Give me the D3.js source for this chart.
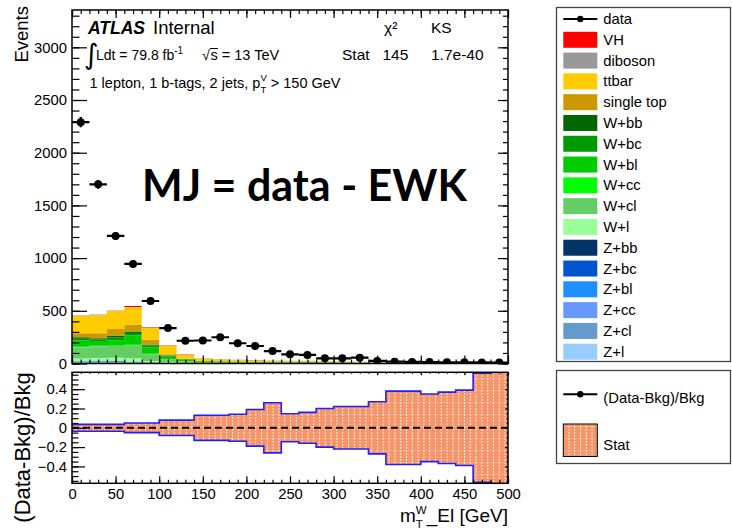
<!DOCTYPE html>
<html><head><meta charset="utf-8">
<script src="https://cdn.jsdelivr.net/npm/d3@7"></script>
<style>
html,body{margin:0;padding:0;background:#fff;}
svg{display:block;font-family:"Liberation Sans",Arial,Helvetica,sans-serif;}
</style></head><body>
<svg id="c" width="732" height="529"></svg>
<script>
// ---- binning (GeV) ----
const edges = [0,20,40,60,80,100,120,140,160,180,200,220,240,260,280,300,320,340,360,380,400,420,440,460,480,500];

// ---- observed events per bin ----
const dataCounts = [2290,1700,1210,945,593,336,216,218,249,192,166,118,87,81,49,49,55,24,17,15,14,12,11,10,9];

// ---- background components per bin (events) ----
const bkgVH      = [1,1,2,8,3,2,1,1,0.5,0.5,0.5,0.5,0.3,0.3,0.3,0.2,0.2,0.2,0.1,0.1,0.1,0.1,0.1,0.1,0.1];
const bkgDiboson = [3,6,4,4,6,3,2,2,2,2,2,1.5,1.5,1.5,1.2,1,1,0.8,0.7,0.6,0.5,0.4,0.4,0.3,0.3];
const bkgTtbar   = [168,172,170,162,111,79,38,20,15,13,12,10,9,8,6,5,4,3.5,3,2.5,2,1.5,1.2,1,0.8];
const bkgStop    = [38,46,62,68,45,12,6,4,3,3,3,2.5,2,2,1.5,1.2,1,0.8,0.7,0.6,0.5,0.4,0.3,0.3,0.2];
const bkgWbb     = [14,12,16,14,10,5,3,2,1.5,1.2,1,1,0.8,0.7,0.6,0.5,0.4,0.3,0.3,0.2,0.2,0.2,0.1,0.1,0.1];
const bkgWbc     = [16,14,30,20,18,8,4,2,2,1.5,1.3,1.1,1,0.8,0.7,0.6,0.5,0.4,0.3,0.3,0.2,0.2,0.2,0.1,0.1];
const bkgWbl     = [60,45,45,92,60,22,12,6,5,4,3.5,3,2.5,2,1.7,1.4,1.2,1,0.8,0.7,0.6,0.5,0.4,0.3,0.3];
const bkgWcc     = [6,6,8,8,5,3,2,1,1,0.8,0.7,0.6,0.5,0.4,0.4,0.3,0.3,0.2,0.2,0.2,0.1,0.1,0.1,0.1,0.1];
const bkgWcl     = [105,110,112,118,65,25,12,7,5,4.5,4,3.5,3,2.5,2,1.7,1.4,1.2,1,0.8,0.7,0.6,0.5,0.4,0.3];
const bkgWl      = [25,28,32,35,12,6,3,2,1.5,1.3,1.2,1,0.9,0.8,0.7,0.6,0.5,0.4,0.3,0.3,0.2,0.2,0.2,0.1,0.1];
const bkgZbb     = [2,2,2,1,1,0.5,0.3,0.2,0.2,0.1,0.1,0.1,0.1,0.1,0.1,0.1,0,0,0,0,0,0,0,0,0];
const bkgZbc     = [2,2,2,1,1,1,0.3,0.2,0.2,0.2,0.1,0.1,0.1,0.1,0.1,0.1,0,0,0,0,0,0,0,0,0];
const bkgZbl     = [4,5,4,3,2,1,1,0.5,0.5,0.4,0.4,0.3,0.3,0.3,0.3,0.2,0.2,0.1,0.1,0.1,0,0,0,0,0];
const bkgZcc     = [3,3,3,2,1,1,0.3,0.3,0.3,0.2,0.2,0.2,0.2,0.2,0.2,0.1,0.1,0.1,0.1,0,0,0,0,0,0];
const bkgZcl     = [5,6,5,4,3,2,1,1,1,1,1,1,1.5,2,2,2,2,1,0.8,0.6,0.5,0.4,0.3,0.2,0.2];
const bkgZl      = [6,7,7,5,3,2,1,1,1.5,1.5,1.5,2,3,4,4,4,3.5,2,0.8,0.6,0.5,0.4,0.3,0.2,0.2];

// ---- relative statistical uncertainty of the background per bin ----
const statRel = [0.035,0.035,0.035,0.05,0.05,0.08,0.08,0.13,0.13,0.14,0.19,0.26,0.145,0.16,0.2,0.22,0.22,0.27,0.38,0.38,0.35,0.37,0.39,0.565,0.9];

// ---- axis ticks ----
const yMainTicks  = [0,500,1000,1500,2000,2500,3000];
const yRatioTicks = [-0.4,-0.2,0,0.2,0.4];
const xTicks      = [0,50,100,150,200,250,300,350,400,450,500];

// ---- legend ----
const legendNames  = ["VH","diboson","ttbar","single top","W+bb","W+bc","W+bl","W+cc","W+cl","W+l","Z+bb","Z+bc","Z+bl","Z+cc","Z+cl","Z+l"];
const legendColors = ["#ff0000","#999999","#ffcc00","#cc9900","#006600","#009900","#00cc00","#00ff00","#66cc66","#99ff99","#003366","#0055cc","#1e90ff","#6699ff","#6699cc","#99ccff"];
const bkgSeries = [bkgVH,bkgDiboson,bkgTtbar,bkgStop,bkgWbb,bkgWbc,bkgWbl,bkgWcc,bkgWcl,bkgWl,bkgZbb,bkgZbc,bkgZbl,bkgZcc,bkgZcl,bkgZl];

// ================= drawing =================
const svg = d3.select("#c");
const F  = {left:72, right:508, top:10, bottom:363.5};
const RF = {top:372.3, bottom:483.3};

const x  = d3.scaleLinear().domain([0,500]).range([F.left, F.right]);
const y  = d3.scaleLinear().domain([0,3354]).range([F.bottom, F.top]);
const yr = d3.scaleLinear().domain([-0.575,0.575]).range([RF.bottom, RF.top]);

const defs = svg.append("defs");
defs.append("clipPath").attr("id","clipMain").append("rect")
  .attr("x",F.left).attr("y",F.top).attr("width",F.right-F.left).attr("height",F.bottom-F.top);
defs.append("clipPath").attr("id","clipRatio").append("rect")
  .attr("x",F.left).attr("y",RF.top).attr("width",F.right-F.left).attr("height",RF.bottom-RF.top);

// hatched orange fill used for the statistical band
const pat = defs.append("pattern").attr("id","statPat").attr("patternUnits","userSpaceOnUse")
  .attr("width",5.8).attr("height",12);
pat.append("rect").attr("width",5.8).attr("height",12).attr("fill","#f6956a");
pat.append("line").attr("x1",0.5).attr("x2",0.5).attr("y1",0).attr("y2",12)
  .attr("stroke","#fff").attr("stroke-width",1).attr("stroke-dasharray","2,1").attr("opacity",0.75);
pat.append("line").attr("x1",0).attr("x2",5.8).attr("y1",6.5).attr("y2",6.5)
  .attr("stroke","#fff").attr("stroke-width",0.8).attr("stroke-dasharray","1,1.5").attr("opacity",0.55);

// ---------- stacked background ----------
const keys = legendNames.slice().reverse();            // bottom of stack first
const colorOf = {}; legendNames.forEach((n,i)=>colorOf[n]=legendColors[i]);
const rows = dataCounts.map((_,i)=>{ const r={}; legendNames.forEach((n,k)=>r[n]=bkgSeries[k][i]); return r; });
const layers = d3.stack().keys(keys)(rows);
const stepArea = d3.area().x(d=>x(d.x)).y0(d=>y(d.y0)).y1(d=>y(d.y1));
const gMain = svg.append("g").attr("clip-path","url(#clipMain)");
layers.forEach(layer=>{
  const pts=[];
  layer.forEach((d,i)=>{ pts.push({x:edges[i],y0:d[0],y1:d[1]}); pts.push({x:edges[i+1],y0:d[0],y1:d[1]}); });
  gMain.append("path").attr("d",stepArea(pts)).attr("fill",colorOf[layer.key]);
});

// ---------- axes helpers ----------
function minorValues(lo,hi,step){ const v=[]; for(let t=lo;t<=hi+1e-9;t+=step) v.push(+t.toFixed(4)); return v; }
function tickAxis(axisGen, tr, vals, len, fmt, pad){
  const a = axisGen.tickValues(vals).tickSizeInner(-len).tickSizeOuter(0).tickPadding(pad||5);
  a.tickFormat(fmt||"");
  const g = svg.append("g").attr("transform",tr).call(a);
  g.select(".domain").remove();
  g.selectAll(".tick line").attr("stroke","#000").attr("stroke-width",1.2);
  g.selectAll("text").attr("fill","#000").attr("font-size","14.8px").attr("font-family","Liberation Sans, Arial, sans-serif");
  return g;
}

// main panel ticks
tickAxis(d3.axisLeft(y),  `translate(${F.left},0)`, yMainTicks, 15, d3.format("d"), 5);
tickAxis(d3.axisLeft(y),  `translate(${F.left},0)`, minorValues(0,3300,100), 7.5);
tickAxis(d3.axisRight(y), `translate(${F.right},0)`, yMainTicks, 10);
tickAxis(d3.axisRight(y), `translate(${F.right},0)`, minorValues(0,3300,100), 5);
tickAxis(d3.axisBottom(x),`translate(0,${F.bottom})`, xTicks, 8);
tickAxis(d3.axisBottom(x),`translate(0,${F.bottom})`, minorValues(0,500,10), 4);
tickAxis(d3.axisTop(x),   `translate(0,${F.top})`, xTicks, 8);
tickAxis(d3.axisTop(x),   `translate(0,${F.top})`, minorValues(0,500,10), 4);

// ---------- data points ----------
const gData = svg.append("g").attr("clip-path","url(#clipMain)");
dataCounts.forEach((n,i)=>{
  const xc = x((edges[i]+edges[i+1])/2);
  gData.append("line").attr("x1",x(edges[i])).attr("x2",x(edges[i+1])).attr("y1",y(n)).attr("y2",y(n))
    .attr("stroke","#000").attr("stroke-width",2.2);
  gData.append("line").attr("x1",xc).attr("x2",xc).attr("y1",y(n-Math.sqrt(n))).attr("y2",y(n+Math.sqrt(n)))
    .attr("stroke","#000").attr("stroke-width",2.2);
  gData.append("circle").attr("cx",xc).attr("cy",y(n)).attr("r",4).attr("fill","#000");
});

// main frame
svg.append("rect").attr("x",F.left).attr("y",F.top).attr("width",F.right-F.left).attr("height",F.bottom-F.top)
  .attr("fill","none").attr("stroke","#000").attr("stroke-width",1.5);

// ---------- ratio panel ----------
const gR = svg.append("g").attr("clip-path","url(#clipRatio)");
const bandPts=[];
statRel.forEach((e,i)=>{ bandPts.push({x:edges[i],e}); bandPts.push({x:edges[i+1],e}); });
gR.append("path").attr("d", d3.area().x(d=>x(d.x)).y0(d=>yr(-d.e)).y1(d=>yr(d.e))(bandPts))
  .attr("fill","url(#statPat)");
const edgeLine = sgn => d3.line().x(d=>x(d.x)).y(d=>yr(sgn*d.e))(bandPts);
gR.append("path").attr("d",edgeLine(1)).attr("fill","none").attr("stroke","#2020ff").attr("stroke-width",1.6);
gR.append("path").attr("d",edgeLine(-1)).attr("fill","none").attr("stroke","#2020ff").attr("stroke-width",1.6);
gR.append("line").attr("x1",F.left).attr("x2",F.right).attr("y1",yr(0)).attr("y2",yr(0))
  .attr("stroke","#000").attr("stroke-width",2).attr("stroke-dasharray","7,4");

tickAxis(d3.axisLeft(yr), `translate(${F.left},0)`, yRatioTicks, 13, d=> d===0?"0":d3.format(".1f")(d).replace("-","\u2212"), 5);
tickAxis(d3.axisLeft(yr), `translate(${F.left},0)`, minorValues(-0.55,0.55,0.05), 6.5);
tickAxis(d3.axisRight(yr),`translate(${F.right},0)`, yRatioTicks, 3);
tickAxis(d3.axisRight(yr),`translate(${F.right},0)`, minorValues(-0.55,0.55,0.05), 1.5);
tickAxis(d3.axisBottom(x),`translate(0,${RF.bottom})`, xTicks, 7, d3.format("d"), 5);
tickAxis(d3.axisBottom(x),`translate(0,${RF.bottom})`, minorValues(0,500,10), 3.5);
tickAxis(d3.axisTop(x),   `translate(0,${RF.top})`, xTicks, 3);
tickAxis(d3.axisTop(x),   `translate(0,${RF.top})`, minorValues(0,500,10), 1.5);
svg.append("rect").attr("x",F.left).attr("y",RF.top).attr("width",F.right-F.left).attr("height",RF.bottom-RF.top)
  .attr("fill","none").attr("stroke","#000").attr("stroke-width",1.5);

// ---------- axis titles ----------
svg.append("text").attr("transform","translate(28,6) rotate(-90)").attr("text-anchor","end")
  .attr("font-size","18.5px").text("Events");
svg.append("text").attr("transform",`translate(29.5,${RF.top}) rotate(-90)`).attr("text-anchor","end")
  .attr("font-size","22px").text("(Data-Bkg)/Bkg");
const xt = svg.append("text").attr("x",F.right).attr("y",522).attr("text-anchor","end").attr("font-size","19px");
xt.append("tspan").text("m");
xt.append("tspan").attr("font-size","11.5px").attr("dy",5.5).text("T");
xt.append("tspan").attr("font-size","11.5px").attr("dx",-7).attr("dy",-13.5).text("W");
xt.append("tspan").attr("dy",8).text("_El [GeV]");

// ---------- labels inside main panel ----------
svg.append("text").attr("x",88).attr("y",34.3).attr("font-size","17.5px").attr("font-weight","bold")
  .attr("font-style","italic").text("ATLAS");
svg.append("text").attr("x",153).attr("y",34.3).attr("font-size","18.5px").text("Internal");
svg.append("text").attr("x",84).attr("y",64).attr("font-size","28px").attr("font-family","DejaVu Sans").text("\u222B");
const lumi = svg.append("text").attr("x",96).attr("y",60).attr("font-size","14px");
lumi.append("tspan").text("Ldt = 79.8 fb");
lumi.append("tspan").attr("font-size","10px").attr("dy",-6).text("-1");
svg.append("text").attr("x",202).attr("y",60).attr("font-size","14.5px").text("\u221A");
svg.append("text").attr("x",210.5).attr("y",60).attr("font-size","14.5px").text("s = 13 TeV");
svg.append("line").attr("x1",210).attr("x2",218).attr("y1",48.5).attr("y2",48.5).attr("stroke","#000").attr("stroke-width",1);
const sel = svg.append("text").attr("x",89.5).attr("y",88).attr("font-size","14.5px");
sel.append("tspan").text("1 lepton, 1 b-tags, 2 jets, p");
sel.append("tspan").attr("font-size","9.5px").attr("dy",4.5).text("T");
sel.append("tspan").attr("font-size","9.5px").attr("dx",-5.8).attr("dy",-11.5).text("V");
sel.append("tspan").attr("dy",7).text(" > 150 GeV");

svg.append("text").attr("x",384).attr("y",33).attr("font-size","15.5px").text("\u03C7\u00B2");
svg.append("text").attr("x",431).attr("y",33).attr("font-size","15.5px").text("KS");
svg.append("text").attr("x",342).attr("y",60).attr("font-size","15.5px").text("Stat");
svg.append("text").attr("x",382.5).attr("y",60).attr("font-size","15.5px").text("145");
svg.append("text").attr("x",431).attr("y",60).attr("font-size","15.5px").text("1.7e-40");

svg.append("text").attr("x",142).attr("y",201).attr("font-family","Lato, 'Open Sans', sans-serif")
  .attr("font-weight","bold").attr("font-size","43px").text("MJ = data - EWK");

// ---------- legends ----------
const L = {x0:556.5, x1:730.5};
svg.append("rect").attr("x",L.x0).attr("y",7.5).attr("width",L.x1-L.x0).attr("height",354)
  .attr("fill","#fff").attr("stroke","#444").attr("stroke-width",1.3);
const ly = d3.scalePoint().domain(["data"].concat(legendNames)).range([19,351.7]);
const sw = {x:563.3, w:34, h:16, tx:603.3};
svg.append("line").attr("x1",sw.x).attr("x2",sw.x+sw.w).attr("y1",ly("data")).attr("y2",ly("data")).attr("stroke","#000").attr("stroke-width",2);
svg.append("circle").attr("cx",sw.x+sw.w/2).attr("cy",ly("data")).attr("r",3.2).attr("fill","#000");
svg.append("text").attr("x",sw.tx).attr("y",ly("data")+5).attr("font-size","14.8px").text("data");
legendNames.forEach((n,i)=>{
  svg.append("rect").attr("x",sw.x).attr("y",ly(n)-sw.h/2).attr("width",sw.w).attr("height",sw.h).attr("fill",legendColors[i]);
  svg.append("text").attr("x",sw.tx).attr("y",ly(n)+5).attr("font-size","14.8px").text(n);
});

svg.append("rect").attr("x",L.x0).attr("y",370.5).attr("width",L.x1-L.x0).attr("height",93)
  .attr("fill","#fff").attr("stroke","#444").attr("stroke-width",1.3);
svg.append("line").attr("x1",sw.x).attr("x2",sw.x+sw.w).attr("y1",394.3).attr("y2",394.3).attr("stroke","#000").attr("stroke-width",2);
svg.append("circle").attr("cx",sw.x+sw.w/2).attr("cy",394.3).attr("r",3.2).attr("fill","#000");
svg.append("text").attr("x",sw.tx).attr("y",403).attr("font-size","14.8px").text("(Data-Bkg)/Bkg");
svg.append("rect").attr("x",sw.x).attr("y",424).attr("width",sw.w).attr("height",32.5)
  .attr("fill","url(#statPat)").attr("stroke","#000").attr("stroke-width",1);
svg.append("text").attr("x",sw.tx).attr("y",450).attr("font-size","14.8px").text("Stat");
</script>
</body></html>
